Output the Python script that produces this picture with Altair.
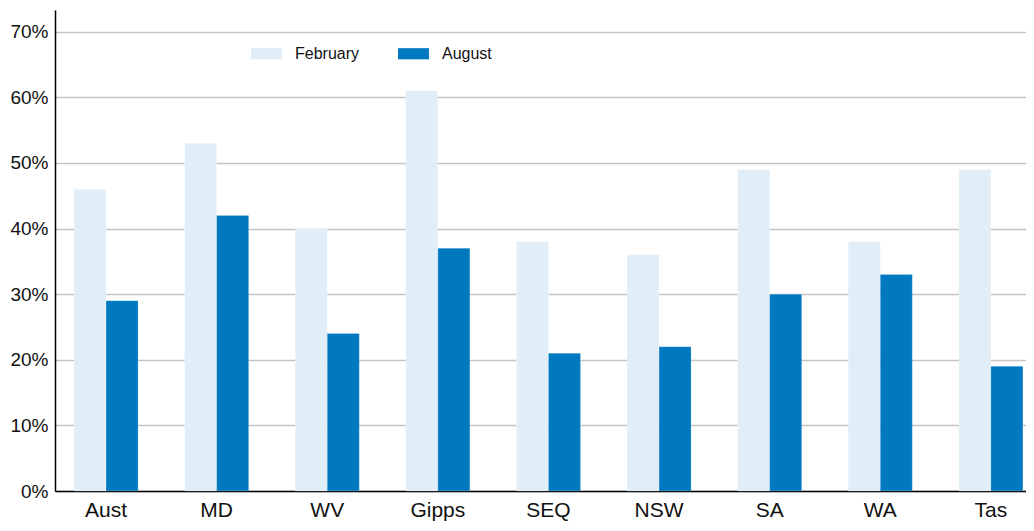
import altair as alt
import pandas as pd

regions = ["Aust", "MD", "WV", "Gipps", "SEQ", "NSW", "SA", "WA", "Tas"]
february = [46, 53, 40, 61, 38, 36, 49, 38, 49]
august = [29, 42, 24, 37, 21, 22, 30, 33, 19]
series = ["February", "August"]
colors = ["#e1eef7", "#0079c1"]
y_ticks = [0, 0.1, 0.2, 0.3, 0.4, 0.5, 0.6, 0.7]

rows = []
for r, f, a in zip(regions, february, august):
    rows.append({"region": r, "series": "February", "value": f / 100})
    rows.append({"region": r, "series": "August", "value": a / 100})
df = pd.DataFrame(rows)

FONT = "Liberation Sans Narrow, Arial Narrow, Liberation Sans, Arial, sans-serif"

chart = alt.Chart(df).mark_bar(stroke="#ffffff", strokeOpacity=0.4, strokeWidth=0.5).encode(
    x=alt.X("region:N", sort=regions, title=None,
            scale=alt.Scale(paddingInner=0.421, paddingOuter=0.1, align=0.86),
            axis=alt.Axis(labelAngle=0, labelFontSize=21, labelFont=FONT, labelColor="#111111",
                          domainColor="#000000", domainWidth=1.5, ticks=False,
                          labelPadding=8)),
    xOffset=alt.XOffset("series:N", sort=series, scale=alt.Scale(paddingInner=0, paddingOuter=0)),
    y=alt.Y("value:Q", title=None,
            scale=alt.Scale(domain=[0, 0.733], nice=False, zero=True),
            axis=alt.Axis(values=y_ticks, format=".0%", labelFontSize=19, labelFont=FONT,
                          labelColor="#111111", domainColor="#000000", domainWidth=1.5,
                          ticks=False, labelPadding=7, gridColor="#c4c4c4", gridWidth=1.5)),
    color=alt.Color("series:N", sort=series,
                    scale=alt.Scale(domain=series, range=colors),
                    legend=alt.Legend(title=None, orient="none", legendX=196, legendY=28,
                                      direction="horizontal",
                                      symbolType="M-1,-0.36H1V0.36H-1Z", symbolSize=961,
                                      symbolStrokeWidth=0, labelFont=FONT, labelFontSize=16,
                                      labelColor="#111111", labelOffset=13, columnPadding=38)),
).properties(
    width=971, height=481,
    padding={"left": 47, "top": 2, "right": 0, "bottom": 32},
    autosize=alt.AutoSizeParams(type="none"),
).configure_view(stroke=None).configure_axisX(grid=False)

chart.save("out.html", embed_options={"renderer": "svg", "actions": False})
